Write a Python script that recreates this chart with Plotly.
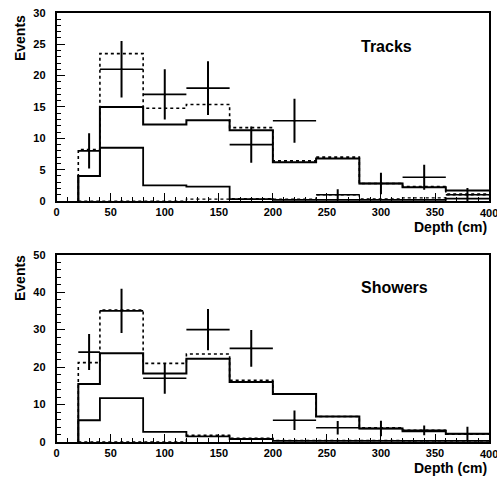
import plotly.graph_objects as go

# ---------------- data ----------------
bin_edges = [20, 40, 80, 120, 160, 200, 240, 280, 320, 360, 400]
centers = [30, 60, 100, 140, 180, 220, 260, 300, 340, 380]
half_width = [10, 20, 20, 20, 20, 20, 20, 20, 20, 20]

# Tracks (top panel)
trk_data = [8.0, 21.0, 17.0, 18.0, 9.0, 12.8, 1.0, 2.8, 3.8, 1.0]
trk_err = [2.8, 4.5, 4.0, 4.3, 2.9, 3.5, 0.9, 1.7, 2.0, 1.1]
trk_dashed = [8.2, 23.5, 14.8, 15.4, 11.7, 6.4, 7.0, 2.8, 2.3, 1.1]
trk_solid = [4.0, 15.0, 12.2, 12.9, 11.3, 6.2, 6.8, 2.8, 2.2, 1.7]
trk_low = [4.0, 8.5, 2.5, 2.3, 0.3, 0.2, 0.2, 0.2, 0.2, 0.4]
trk_low_dash = [0.0, 0.0, 0.0, 0.3, 0.4, 0.3, 1.0, 0.35, 0.5, 1.0]

# Showers (bottom panel)
shw_data = [24.0, 35.0, 17.0, 30.0, 25.0, 5.8, 3.8, 3.6, 3.1, 2.2]
shw_err = [4.8, 5.9, 4.1, 5.5, 4.9, 2.6, 1.8, 2.1, 1.3, 1.9]
shw_dashed = [21.2, 35.2, 21.0, 23.5, 16.5, 12.8, 6.8, 3.8, 3.1, 2.1]
shw_solid = [15.5, 23.7, 18.3, 22.2, 16.0, 12.8, 6.8, 3.6, 2.9, 2.2]
shw_low = [5.8, 11.7, 2.7, 1.5, 0.8, 0.3, 0.3, 0.3, 0.3, 0.3]
shw_low_dash = [0.0, 0.0, 0.0, 1.8, 1.0, 0.4, 0.4, 0.4, 0.3, 0.3]

x_ticks = [0, 50, 100, 150, 200, 250, 300, 350]
x_last_tick = 400

panels = [
    dict(name="Tracks", data=trk_data, err=trk_err, dashed=trk_dashed,
         solid=trk_solid, low=trk_low, lowdash=trk_low_dash, xa="x", ya="y"),
    dict(name="Showers", data=shw_data, err=shw_err, dashed=shw_dashed,
         solid=shw_solid, low=shw_low, lowdash=shw_low_dash, xa="x2", ya="y2"),
]

W, H = 497, 487
px_x = lambda p: p / W
px_y = lambda p: 1 - p / H

fig = go.Figure()


def step(vals):
    xs = [bin_edges[0]] + list(bin_edges)
    ys = [0] + list(vals) + [vals[-1]]
    return xs, ys


for p in panels:
    for vals, width, dash in [(p["lowdash"], 1.3, "dot"),
                              (p["low"], 1.8, "solid"),
                              (p["dashed"], 1.6, "dot"),
                              (p["solid"], 2.0, "solid")]:
        xs, ys = step(vals)
        fig.add_trace(go.Scatter(x=xs, y=ys, mode="lines", line_shape="hv",
                                 line=dict(color="black", width=width, dash=dash),
                                 xaxis=p["xa"], yaxis=p["ya"], showlegend=False,
                                 hoverinfo="skip"))
    fig.add_trace(go.Scatter(
        x=centers, y=p["data"], mode="markers",
        marker=dict(size=2, color="black"),
        error_y=dict(type="data", array=p["err"], width=0, thickness=2, color="black"),
        error_x=dict(type="data", array=half_width, width=0, thickness=1.6, color="black"),
        xaxis=p["xa"], yaxis=p["ya"], showlegend=False))

tickfont = dict(family="Liberation Sans, Arial, sans-serif", size=11, color="black", weight="bold")

common_x = dict(range=[0, 400], tickmode="array", tickvals=x_ticks + [x_last_tick],
                ticktext=[str(v) for v in x_ticks] + [""],
                ticks="inside", ticklen=8, tickwidth=1.3,
                tickcolor="black", showline=True, linecolor="black", linewidth=1.8,
                mirror=True, showgrid=False, zeroline=False, tickfont=tickfont,
                minor=dict(dtick=10, tick0=0, ticks="inside", ticklen=4, tickcolor="black", tickwidth=1),
                domain=[px_x(54), px_x(489)], fixedrange=True)

fig.update_layout(
    width=W, height=H, margin=dict(l=0, r=0, t=0, b=0),
    paper_bgcolor="white", plot_bgcolor="white", showlegend=False,
    xaxis=dict(anchor="y", **common_x),
    xaxis2=dict(anchor="y2", **common_x),
    yaxis=dict(anchor="x", range=[0, 30], dtick=5, ticks="inside", ticklen=8, tickwidth=1.3,
               tickcolor="black", showline=True, linecolor="black", linewidth=1.8, mirror=True,
               showgrid=False, zeroline=False, tickfont=tickfont, ticklabelstandoff=7,
               minor=dict(dtick=1, ticks="inside", ticklen=4, tickcolor="black", tickwidth=1),
               domain=[px_y(200), px_y(7)]),
    yaxis2=dict(anchor="x2", range=[0, 50], dtick=10, ticks="inside", ticklen=8, tickwidth=1.3,
                tickcolor="black", showline=True, linecolor="black", linewidth=1.8, mirror=True,
                showgrid=False, zeroline=False, tickfont=tickfont, ticklabelstandoff=7,
                minor=dict(dtick=2, ticks="inside", ticklen=4, tickcolor="black", tickwidth=1),
                domain=[px_y(447), px_y(255)]),
)

lblfont = dict(family="Liberation Sans, Arial, sans-serif", color="black", weight="bold")
annots = [
    dict(text="Tracks", x=px_x(386), y=px_y(42), size=16, angle=0, xa="center"),
    dict(text="Showers", x=px_x(394), y=px_y(289), size=16, angle=0, xa="center"),
    dict(text="Depth (cm)", x=px_x(489), y=px_y(227), size=14, angle=0, xa="right"),
    dict(text="Depth (cm)", x=px_x(489), y=px_y(474), size=14, angle=0, xa="right"),
    dict(text="Events", x=px_x(17), y=px_y(33), size=14, angle=-90, xa="center"),
    dict(text="Events", x=px_x(17), y=px_y(279), size=14, angle=-90, xa="center"),
]
for a in annots:
    fig.add_annotation(text=a["text"], x=a["x"], y=a["y"], xref="paper", yref="paper",
                       xanchor=a["xa"], yanchor="middle", textangle=a["angle"],
                       showarrow=False, font=dict(size=a["size"], **lblfont))

# last x tick label (clipped by the page edge, as in the reference)
for xr, yc in [("x", 212), ("x2", 459)]:
    fig.add_annotation(text=str(x_last_tick), x=x_last_tick, xref=xr, y=px_y(yc), yref="paper",
                       xanchor="center", yanchor="middle", showarrow=False,
                       font=dict(size=11, **lblfont))

fig.write_html("out.html")
